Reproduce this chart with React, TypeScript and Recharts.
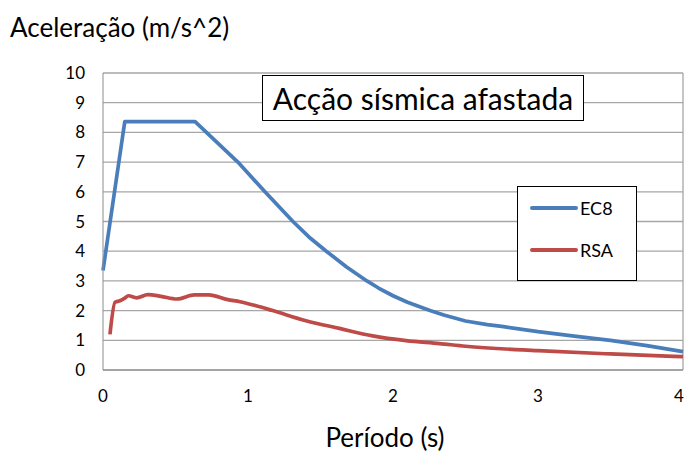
import React from "react";
import { LineChart, Line, XAxis, YAxis, CartesianGrid, ReferenceLine } from "recharts";

const ec8Periods = [0, 0.15, 0.635, 0.93, 1.117, 1.31, 1.42, 1.54, 1.68, 1.82, 1.9, 2.0, 2.1, 2.255, 2.35, 2.5, 2.65, 2.75, 3.0, 3.25, 3.5, 3.75, 4.0];
const ec8Values = [3.35, 8.36, 8.36, 7.0, 6.0, 5.0, 4.48, 4.0, 3.47, 3.0, 2.76, 2.5, 2.28, 2.0, 1.85, 1.65, 1.53, 1.47, 1.29, 1.14, 1.0, 0.82, 0.62];

const rsaPeriods = [0.048, 0.083, 0.117, 0.15, 0.175, 0.232, 0.31, 0.4, 0.51, 0.63, 0.73, 0.86, 0.945, 1.05, 1.17, 1.4, 1.63, 1.86, 2.09, 2.32, 2.5, 3.0, 3.5, 4.0];
const rsaValues = [1.2, 2.28, 2.33, 2.42, 2.5, 2.43, 2.54, 2.48, 2.39, 2.53, 2.53, 2.37, 2.3, 2.17, 2.0, 1.66, 1.4, 1.15, 0.99, 0.89, 0.8, 0.65, 0.54, 0.45];

const xTicks = [0, 1, 2, 3, 4];
const yTicks = [0, 1, 2, 3, 4, 5, 6, 7, 8, 9, 10];

const seriesNames = ["EC8", "RSA"];
const seriesColors = ["#4a7ebb", "#be4b48"];

const ec8Data = ec8Periods.map((t, i) => ({ t, v: ec8Values[i] }));
const rsaData = rsaPeriods.map((t, i) => ({ t, v: rsaValues[i] }));

const FONT = "Lato, 'Open Sans', sans-serif";

const XTick = (props: any) => {
  const { x, y, payload } = props;
  const cx = Math.min(x, 679);
  return (
    <text x={cx} y={y + 20} textAnchor="middle" fill="#000" fontSize={17} fontFamily={FONT} dominantBaseline="middle">
      {payload.value}
    </text>
  );
};

export default function App() {
  return (
    <div style={{ position: "absolute", left: 0, top: 0, width: 686, height: 452, background: "#fff", fontFamily: FONT }}>
      <LineChart width={686} height={452} margin={{ top: 73, right: 3, bottom: 52, left: 63 }}>
        <CartesianGrid horizontal={true} vertical={false} stroke="#a6a6a6" strokeWidth={1.3} />
        <XAxis
          type="number"
          dataKey="t"
          domain={[0, 4]}
          ticks={xTicks}
          interval={0}
          allowDuplicatedCategory={false}
          height={30}
          stroke="#8c8c8c"
          tickLine={false}
          tick={<XTick />}
        />
        <YAxis
          type="number"
          domain={[0, 10]}
          ticks={yTicks}
          interval={0}
          width={40}
          stroke="#8c8c8c"
          tickLine={false}
          tick={{ fill: "#000", fontSize: 17, fontFamily: FONT, dx: -10 }}
        />
        <ReferenceLine x={4} stroke="#a6a6a6" strokeWidth={1.3} />
        <Line
          data={ec8Data}
          dataKey="v"
          name="EC8"
          type="linear"
          stroke={seriesColors[0]}
          strokeWidth={3.7}
          strokeLinejoin="round"
          dot={false}
          isAnimationActive={false}
        />
        <Line
          data={rsaData}
          dataKey="v"
          name="RSA"
          type="monotone"
          stroke={seriesColors[1]}
          strokeWidth={3.7}
          strokeLinejoin="round"
          dot={false}
          isAnimationActive={false}
        />
      </LineChart>
      <div
        style={{
          position: "absolute",
          left: 517,
          top: 186,
          width: 120,
          height: 95,
          border: "1.5px solid #000",
          background: "#fff",
          boxSizing: "border-box",
          fontSize: 18,
        }}
      >
        {seriesNames.map((n, i) => (
          <div key={n} style={{ position: "absolute", left: 12, top: 9 + i * 42, height: 24, display: "flex", alignItems: "center" }}>
            <div style={{ width: 48, height: 4, background: seriesColors[i], borderRadius: 2 }} />
            <span style={{ marginLeft: 2, color: "#000" }}>{n}</span>
          </div>
        ))}
      </div>
      <div
        style={{
          position: "absolute",
          left: 262,
          top: 75,
          width: 322,
          height: 46,
          border: "1.5px solid #000",
          background: "#fff",
          boxSizing: "border-box",
          display: "flex",
          alignItems: "center",
          justifyContent: "center",
          fontSize: 30,
          color: "#000",
          whiteSpace: "nowrap",
        }}
      >
        Acção sísmica afastada
      </div>
      <div style={{ position: "absolute", left: 10, top: 11, fontSize: 26, color: "#000", whiteSpace: "nowrap" }}>
        Aceleração (m/s^2)
      </div>
      <div style={{ position: "absolute", left: 385, top: 421, transform: "translateX(-50%)", fontSize: 26, color: "#000", whiteSpace: "nowrap" }}>
        Período (s)
      </div>
    </div>
  );
}
